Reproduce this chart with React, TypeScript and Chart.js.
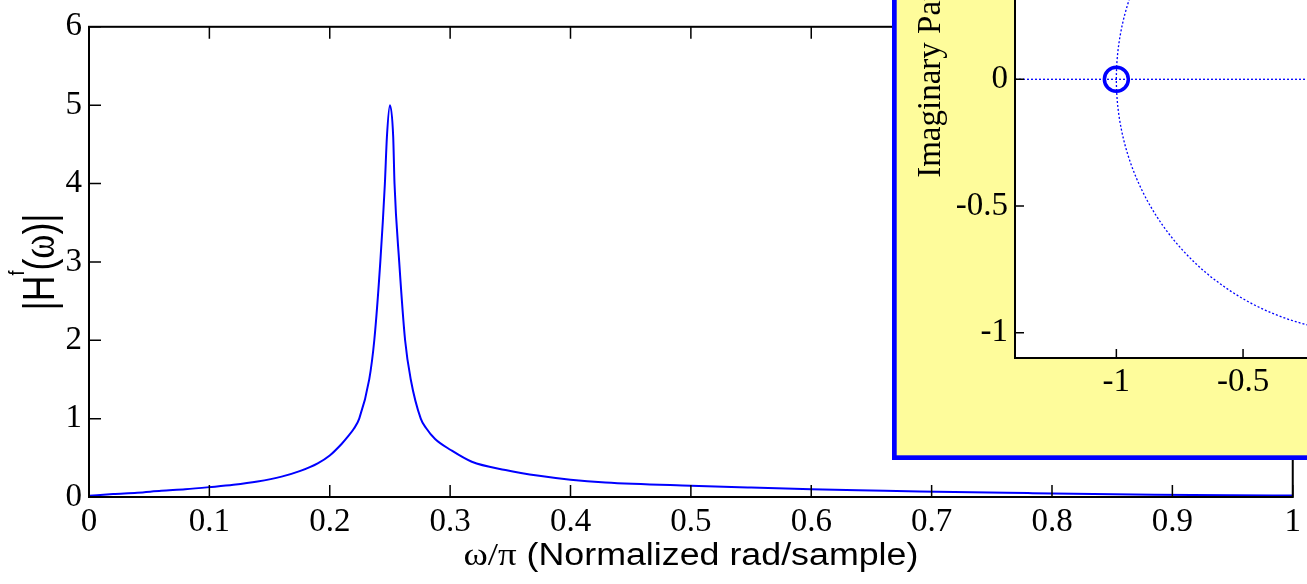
import React, { useEffect, useRef } from 'react';
import { Chart, registerables } from 'chart.js';

Chart.register(...registerables);

// ---------------- data ----------------
const omega = [
  0, 0.02, 0.04, 0.06, 0.08, 0.1, 0.12, 0.14, 0.16, 0.175, 0.19, 0.2, 0.21, 0.215, 0.22,
  0.2245, 0.2328, 0.237, 0.242, 0.2458, 0.2475, 0.25, 0.2527, 0.2538, 0.2577, 0.2626,
  0.2673, 0.2756, 0.28, 0.2875, 0.3005, 0.318, 0.346, 0.374, 0.4, 0.429, 0.5, 0.55, 0.6,
  0.65, 0.69, 0.78, 0.885, 0.95, 1.0,
];
const magnitude = [
  0.016, 0.038, 0.055, 0.08, 0.1, 0.126, 0.155, 0.197, 0.26, 0.33, 0.43, 0.53, 0.68, 0.77, 0.87,
  1.0, 1.5, 2.0, 3.0, 4.0, 4.6, 5.0, 4.6, 4.0, 3.0, 2.0,
  1.5, 1.0, 0.88, 0.74, 0.6, 0.45, 0.345, 0.27, 0.22, 0.185, 0.143, 0.12, 0.1,
  0.083, 0.07, 0.05, 0.03, 0.022, 0.018,
];

const xRange = [0, 1];
const yRange = [0, 6];
const xTickValues = [0, 0.1, 0.2, 0.3, 0.4, 0.5, 0.6, 0.7, 0.8, 0.9, 1];
const xTickLabels = ['0', '0.1', '0.2', '0.3', '0.4', '0.5', '0.6', '0.7', '0.8', '0.9', '1'];
const yTickValues = [0, 1, 2, 3, 4, 5, 6];
const yTickLabels = ['0', '1', '2', '3', '4', '5', '6'];

// inset pole-zero plot
const zeroReal = [-1];
const zeroImag = [0];
const unitCircleRadius = [1];
const insetXRange = [-1.4, 1.4];
const insetYRange = [-1.1, 1.1];
const insetXTickValues = [-1, -0.5, 0, 0.5, 1];
const insetXTickLabels = ['-1', '-0.5', '0', '0.5', '1'];
const insetYTickValues = [-1, -0.5, 0, 0.5, 1];
const insetYTickLabels = ['-1', '-0.5', '0', '0.5', '1'];

const xTitleSymbol = 'ω/π';
const xTitleText = ' (Normalized rad/sample)';
const yTitleBar = '|';
const yTitleH = 'H';
const yTitleSup = 'f';
const yTitleOpen = '(';
const yTitleOmega = 'ω';
const yTitleClose = ')';
const insetYTitle = 'Imaginary Part';

// ---------------- styling ----------------
const SERIF = '"Liberation Serif", "Times New Roman", serif';
const SANS = '"Liberation Sans", Arial, sans-serif';
const BLUE = '#0000ff';
const YELLOW = '#fefc9b';

const mainDecor = {
  id: 'mainDecor',
  afterDraw(chart: any) {
    const { ctx, chartArea: ca, scales } = chart;
    const xs = scales.x;
    const ys = scales.y;
    ctx.save();
    ctx.strokeStyle = '#000';
    ctx.lineWidth = 1.5;
    ctx.beginPath();
    for (const t of xs.ticks) {
      const p = xs.getPixelForValue(t.value);
      ctx.moveTo(p, ca.bottom);
      ctx.lineTo(p, ca.bottom - 12);
      ctx.moveTo(p, ca.top);
      ctx.lineTo(p, ca.top + 12);
    }
    for (const t of ys.ticks) {
      const p = ys.getPixelForValue(t.value);
      ctx.moveTo(ca.left, p);
      ctx.lineTo(ca.left + 12, p);
      ctx.moveTo(ca.right, p);
      ctx.lineTo(ca.right - 12, p);
    }
    ctx.stroke();
    ctx.lineWidth = 2;
    ctx.strokeRect(ca.left, ca.top, ca.right - ca.left, ca.bottom - ca.top);

    // x title
    ctx.fillStyle = '#000';
    ctx.textAlign = 'left';
    ctx.textBaseline = 'alphabetic';
    const fSym = `32px ${SERIF}`;
    const fTxt = `31px ${SANS}`;
    ctx.font = fSym;
    const w1 = ctx.measureText(xTitleSymbol).width;
    ctx.font = fTxt;
    const w2 = ctx.measureText(xTitleText).width;
    const targetW = 455;
    const sx = targetW / (w1 + w2);
    const cx = (ca.left + ca.right) / 2;
    ctx.save();
    ctx.translate(cx - targetW / 2, 565);
    ctx.scale(sx, 1);
    ctx.font = fSym;
    ctx.fillText(xTitleSymbol, 0, 0);
    ctx.font = fTxt;
    ctx.fillText(xTitleText, w1, 0);
    ctx.restore();

    // y title  |H^f(ω)|
    const big = `32px ${SANS}`;
    const parts = [
      { t: yTitleBar, f: big, dy: 0 },
      { t: yTitleH, f: big, dy: 0 },
      { t: yTitleSup, f: `16px ${SANS}`, dy: -22 },
      { t: yTitleOpen, f: big, dy: 0 },
      { t: yTitleOmega, f: `33px ${SERIF}`, dy: 0 },
      { t: yTitleClose, f: big, dy: 0 },
      { t: yTitleBar, f: big, dy: 0 },
    ];
    let W = 0;
    const widths = parts.map((p) => {
      ctx.font = p.f;
      const w = ctx.measureText(p.t).width;
      W += w;
      return w;
    });
    const along = 97 / W;
    ctx.save();
    ctx.translate(54, (ca.top + ca.bottom) / 2);
    ctx.rotate(-Math.PI / 2);
    ctx.scale(along, 1.38);
    let x = -W / 2;
    parts.forEach((p, i) => {
      ctx.font = p.f;
      ctx.fillText(p.t, x, p.dy);
      x += widths[i];
    });
    ctx.restore();
    ctx.restore();
  },
};

const insetDecor = {
  id: 'insetDecor',
  beforeDraw(chart: any) {
    const { ctx, width, height, chartArea: ca } = chart;
    ctx.save();
    ctx.fillStyle = BLUE;
    ctx.fillRect(0, 0, width, height);
    ctx.fillStyle = YELLOW;
    ctx.fillRect(4.7, 4.7, width - 9.4, height - 9.4);
    ctx.fillStyle = '#fff';
    ctx.fillRect(ca.left, ca.top, ca.right - ca.left, ca.bottom - ca.top);
    ctx.restore();
  },
  beforeDatasetsDraw(chart: any) {
    const { ctx, chartArea: ca, scales } = chart;
    const xs = scales.x;
    const ys = scales.y;
    const cx = xs.getPixelForValue(0);
    const cy = ys.getPixelForValue(0);
    const r = xs.getPixelForValue(unitCircleRadius[0]) - cx;
    ctx.save();
    ctx.beginPath();
    ctx.rect(ca.left, ca.top, ca.right - ca.left, ca.bottom - ca.top);
    ctx.clip();
    ctx.strokeStyle = BLUE;
    ctx.lineWidth = 1.3;
    ctx.setLineDash([2, 2]);
    ctx.beginPath();
    ctx.arc(cx, cy, r, 0, Math.PI * 2);
    ctx.stroke();
    ctx.restore();
  },
  afterDraw(chart: any) {
    const { ctx, chartArea: ca, scales } = chart;
    const xs = scales.x;
    const ys = scales.y;
    ctx.save();
    ctx.strokeStyle = '#000';
    ctx.lineWidth = 1.5;
    ctx.beginPath();
    for (const t of xs.ticks) {
      const p = xs.getPixelForValue(t.value);
      ctx.moveTo(p, ca.bottom);
      ctx.lineTo(p, ca.bottom - 9);
      ctx.moveTo(p, ca.top);
      ctx.lineTo(p, ca.top + 9);
    }
    for (const t of ys.ticks) {
      const p = ys.getPixelForValue(t.value);
      ctx.moveTo(ca.left, p);
      ctx.lineTo(ca.left + 9, p);
      ctx.moveTo(ca.right, p);
      ctx.lineTo(ca.right - 9, p);
    }
    ctx.stroke();
    ctx.lineWidth = 2;
    ctx.strokeRect(ca.left, ca.top, ca.right - ca.left, ca.bottom - ca.top);

    ctx.fillStyle = '#000';
    ctx.font = `33px ${SERIF}`;
    ctx.textAlign = 'center';
    ctx.textBaseline = 'alphabetic';
    ctx.translate(48, (ca.top + ca.bottom) / 2);
    ctx.rotate(-Math.PI / 2);
    ctx.fillText(insetYTitle, 0, 0);
    ctx.restore();
  },
};

const tickFont = { family: SERIF, size: 33 };

export default function App() {
  const mainRef = useRef<HTMLCanvasElement>(null);
  const insetRef = useRef<HTMLCanvasElement>(null);

  useEffect(() => {
    const main = new Chart(mainRef.current as HTMLCanvasElement, {
      type: 'line',
      data: {
        datasets: [
          {
            data: omega.map((x, i) => ({ x, y: magnitude[i] })),
            borderColor: BLUE,
            borderWidth: 2,
            pointRadius: 0,
            cubicInterpolationMode: 'monotone',
            fill: false,
          },
        ],
      },
      options: {
        responsive: false,
        animation: false,
        devicePixelRatio: 1,
        events: [],
        layout: { padding: { left: 0, top: 22, right: 10, bottom: 0 } },
        plugins: { legend: { display: false }, tooltip: { enabled: false } },
        scales: {
          x: {
            type: 'linear',
            min: xRange[0],
            max: xRange[1],
            grid: { display: false, drawTicks: false },
            border: { display: false },
            afterBuildTicks: (s: any) => {
              s.ticks = xTickValues.map((v) => ({ value: v }));
            },
            afterFit: (s: any) => {
              s.height = 87;
            },
            ticks: {
              color: '#000',
              font: tickFont,
              padding: 6,
              maxRotation: 0,
              autoSkip: false,
              callback: (_v: any, i: number) => xTickLabels[i],
            },
          },
          y: {
            type: 'linear',
            min: yRange[0],
            max: yRange[1],
            grid: { display: false, drawTicks: false },
            border: { display: false },
            afterBuildTicks: (s: any) => {
              s.ticks = yTickValues.map((v) => ({ value: v }));
            },
            afterFit: (s: any) => {
              s.width = 89;
            },
            ticks: {
              color: '#000',
              font: tickFont,
              padding: 7,
              autoSkip: false,
              callback: (_v: any, i: number) => yTickLabels[i],
            },
          },
        },
      } as any,
      plugins: [mainDecor],
    });

    const inset = new Chart(insetRef.current as HTMLCanvasElement, {
      type: 'line',
      data: {
        datasets: [
          {
            data: [
              { x: insetXRange[0], y: 0 },
              { x: insetXRange[1], y: 0 },
            ],
            borderColor: BLUE,
            borderWidth: 1.3,
            borderDash: [2, 2],
            pointRadius: 0,
            showLine: true,
          },
          {
            data: [
              { x: 0, y: insetYRange[0] },
              { x: 0, y: insetYRange[1] },
            ],
            borderColor: BLUE,
            borderWidth: 1.3,
            borderDash: [2, 2],
            pointRadius: 0,
            showLine: true,
          },
          {
            data: zeroReal.map((x, i) => ({ x, y: zeroImag[i] })),
            showLine: false,
            pointStyle: 'circle',
            pointRadius: 12,
            pointBorderWidth: 3.5,
            pointBorderColor: BLUE,
            pointBackgroundColor: 'rgba(0,0,0,0)',
            borderColor: BLUE,
          },
        ],
      },
      options: {
        responsive: false,
        animation: false,
        devicePixelRatio: 1,
        events: [],
        layout: { padding: { left: 0, top: 100.6, right: 117.5, bottom: 0 } },
        plugins: { legend: { display: false }, tooltip: { enabled: false } },
        scales: {
          x: {
            type: 'linear',
            min: insetXRange[0],
            max: insetXRange[1],
            grid: { display: false, drawTicks: false },
            border: { display: false },
            afterBuildTicks: (s: any) => {
              s.ticks = insetXTickValues.map((v) => ({ value: v }));
            },
            afterFit: (s: any) => {
              s.height = 102;
            },
            ticks: {
              color: '#000',
              font: tickFont,
              padding: 5,
              maxRotation: 0,
              autoSkip: false,
              callback: (_v: any, i: number) => insetXTickLabels[i],
            },
          },
          y: {
            type: 'linear',
            min: insetYRange[0],
            max: insetYRange[1],
            grid: { display: false, drawTicks: false },
            border: { display: false },
            afterBuildTicks: (s: any) => {
              s.ticks = insetYTickValues.map((v) => ({ value: v }));
            },
            afterFit: (s: any) => {
              s.width = 123;
            },
            ticks: {
              color: '#000',
              font: tickFont,
              padding: 7,
              autoSkip: false,
              callback: (_v: any, i: number) => insetYTickLabels[i],
            },
          },
        },
      } as any,
      plugins: [insetDecor],
    });

    return () => {
      main.destroy();
      inset.destroy();
    };
  }, []);

  return (
    <div
      style={{
        position: 'fixed',
        left: 0,
        top: 0,
        width: 1307,
        height: 584,
        overflow: 'hidden',
        background: '#fff',
      }}
    >
      <canvas
        ref={mainRef}
        width={1307}
        height={584}
        style={{ position: 'absolute', left: 0, top: 0, width: 1307, height: 584 }}
      />
      <canvas
        ref={insetRef}
        width={950}
        height={760}
        style={{ position: 'absolute', left: 892, top: -300, width: 950, height: 760 }}
      />
    </div>
  );
}
